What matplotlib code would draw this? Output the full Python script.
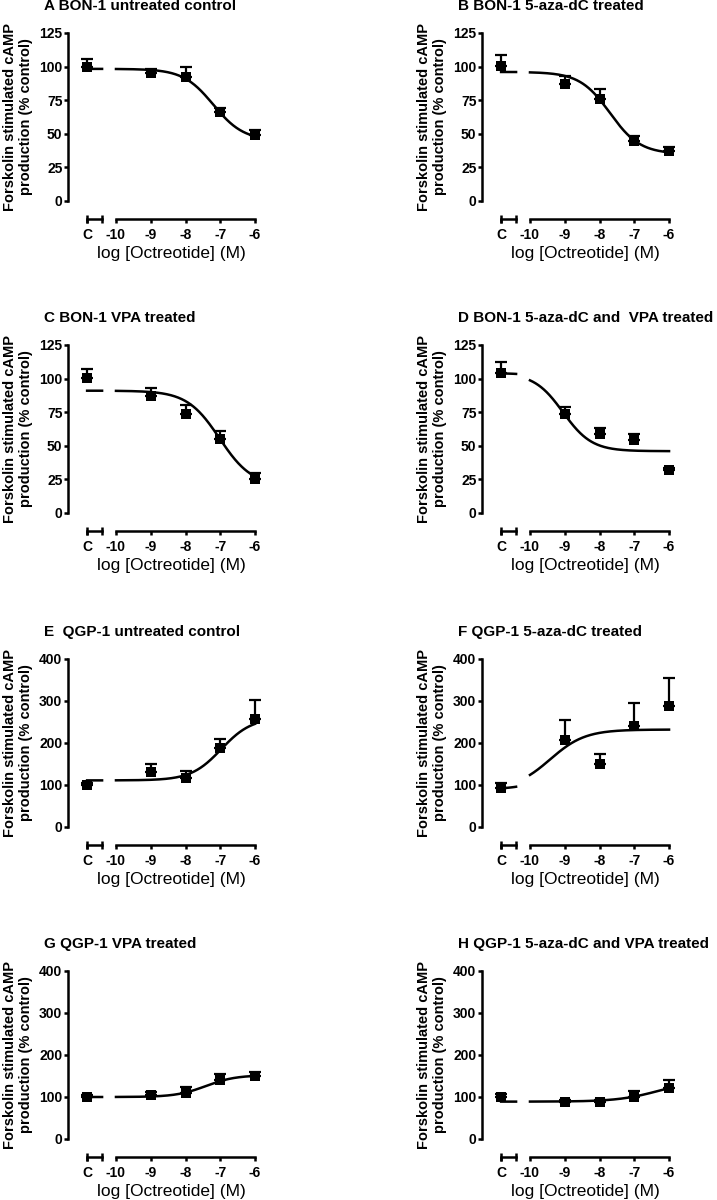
import numpy as np
import matplotlib.pyplot as plt

plt.rcParams['font.family'] = ['Liberation Sans', 'DejaVu Sans']

# panel titles
titles = [
    "A BON-1 untreated control",
    "B BON-1 5-aza-dC treated",
    "C BON-1 VPA treated",
    "D BON-1 5-aza-dC and  VPA treated",
    "E  QGP-1 untreated control",
    "F QGP-1 5-aza-dC treated",
    "G QGP-1 VPA treated",
    "H QGP-1 5-aza-dC and VPA treated",
]

# control (no octreotide) mean and SEM, % control
ctrl_mean = [100, 100.5, 100.8, 104.3, 100, 92, 101, 99.6]
ctrl_sem = [6, 8, 6, 8, 4, 12, 4, 8]

# octreotide doses, log M
log_conc = [-9, -8, -7, -6]
resp_mean = [
    [95, 92, 66, 49],
    [86.7, 75.6, 44.5, 37.5],
    [87.2, 73.5, 55.3, 25.6],
    [73.5, 59, 54.5, 32.1],
    [131.8, 116.8, 187, 257],
    [206.7, 150, 240, 287],
    [104.3, 110.7, 140.7, 150.2],
    [87, 87, 101, 121],
]
resp_sem = [
    [3, 8, 3, 3.5],
    [6, 7.5, 3.5, 3],
    [6, 7, 6, 4],
    [5, 4, 4, 1.5],
    [18, 16, 22, 45],
    [47, 24, 55, 67],
    [8, 12, 14, 9],
    [5, 6, 14, 20],
]

# four-parameter logistic fits: value at low dose, value at high dose, logEC50, Hill slope
fit_start = [98.3, 96, 91, 104, 111, 90, 100, 89]
fit_end = [45, 35, 20, 46, 260, 232, 152, 140]
fit_logec50 = [-7.2, -7.7, -7.02, -9.05, -6.97, -9.42, -7.42, -6.31]
fit_hill = [1.0, 1.0, 0.93, 1.05, 1.0, 0.865, 1.02, 0.74]

y_max = [125, 125, 125, 125, 400, 400, 400, 400]
y_ticks = [[0, 25, 50, 75, 100, 125]] * 4 + [[0, 100, 200, 300, 400]] * 4

# control segment of the broken x axis and the dose range it stands for
c_pos, c_end = -10.83, -10.40
ctrl_log = (-11.5, -11.0)


def logistic(x, start, end, ec50, hill):
    return end + (start - end) / (1 + 10 ** (hill * (x - ec50)))


W, H = 717, 1200
fig = plt.figure(figsize=(W / 100, H / 100), dpi=100)

col_left = [68, 482]
row_bottom = [201, 513, 827, 1139]
ax_w, ax_h = 194, 168
lw = 1.8

for i in range(8):
    r, c = divmod(i, 2)
    ax = fig.add_axes([col_left[c] / W, (H - row_bottom[r]) / H, ax_w / W, ax_h / H])
    ax.set_xlim(-11.38, -5.8)
    ax.set_ylim(0, y_max[i])

    p = (fit_start[i], fit_end[i], fit_logec50[i], fit_hill[i])
    xs = np.linspace(-10, -6, 300)
    ax.plot(xs, logistic(xs, *p), color='black', lw=lw, zorder=2)
    xc = np.linspace(ctrl_log[0], ctrl_log[1], 30)
    xd = c_pos + (xc - xc[0]) / (xc[-1] - xc[0]) * (c_end - c_pos)
    ax.plot(xd, logistic(xc, *p), color='black', lw=lw, zorder=2)

    xpts = [c_pos] + log_conc
    ypts = [ctrl_mean[i]] + resp_mean[i]
    err = [ctrl_sem[i]] + resp_sem[i]
    eb = ax.errorbar(xpts, ypts, yerr=[np.zeros(len(err)), err], fmt='none',
                     ecolor='black', capsize=4, elinewidth=1.6,
                     capthick=1.6, zorder=3)
    for a in eb.get_children():
        a.set_clip_on(False)
    ax.plot(xpts, ypts, 's', color='black', ms=7, mew=0, zorder=4,
            clip_on=False)

    # axes styling
    for s in ['top', 'right']:
        ax.spines[s].set_visible(False)
    ax.spines['left'].set_linewidth(lw)
    ax.spines['bottom'].set_linewidth(lw)
    ax.spines['bottom'].set_position(('outward', 13))
    ax.spines['bottom'].set_bounds(-10, -6)
    ax.set_yticks(y_ticks[i])
    ax.set_xticks([c_pos, -10, -9, -8, -7, -6],
                  ['C', '-10', '-9', '-8', '-7', '-6'])
    ax.tick_params(axis='y', direction='out', length=3, width=lw,
                   labelsize=10, pad=1)
    ax.tick_params(axis='x', direction='out', length=3, width=lw,
                   labelsize=10, pad=3.5)
    plt.setp(ax.get_xticklabels() + ax.get_yticklabels(), fontweight='bold')

    # control bracket
    yb = -18 / ax_h
    ax.plot([c_pos, c_end], [yb, yb], transform=ax.get_xaxis_transform(),
            color='black', lw=lw, marker='|', ms=6, mew=lw, clip_on=False)

    ax.annotate(titles[i], xy=(0, 1), xycoords='axes fraction',
                xytext=(-17.3, 19.4), textcoords='offset points',
                ha='left', va='center', fontsize=11, fontweight='bold')
    ax.annotate("Forskolin stimulated cAMP\nproduction (% control)",
                xy=(0, 0.5), xycoords='axes fraction',
                xytext=(-36, 0), textcoords='offset points', rotation=90,
                ha='center', va='center', multialignment='center',
                fontsize=10.5, fontweight='bold', linespacing=1.15)
    ax.annotate("log [Octreotide] (M)", xy=((c_pos - 6) / 2, 0),
                xycoords=('data', 'axes fraction'), xytext=(0, -38),
                textcoords='offset points', ha='center', va='center',
                fontsize=12.5)

fig.savefig("out.png", dpi=100)
plt.close()
